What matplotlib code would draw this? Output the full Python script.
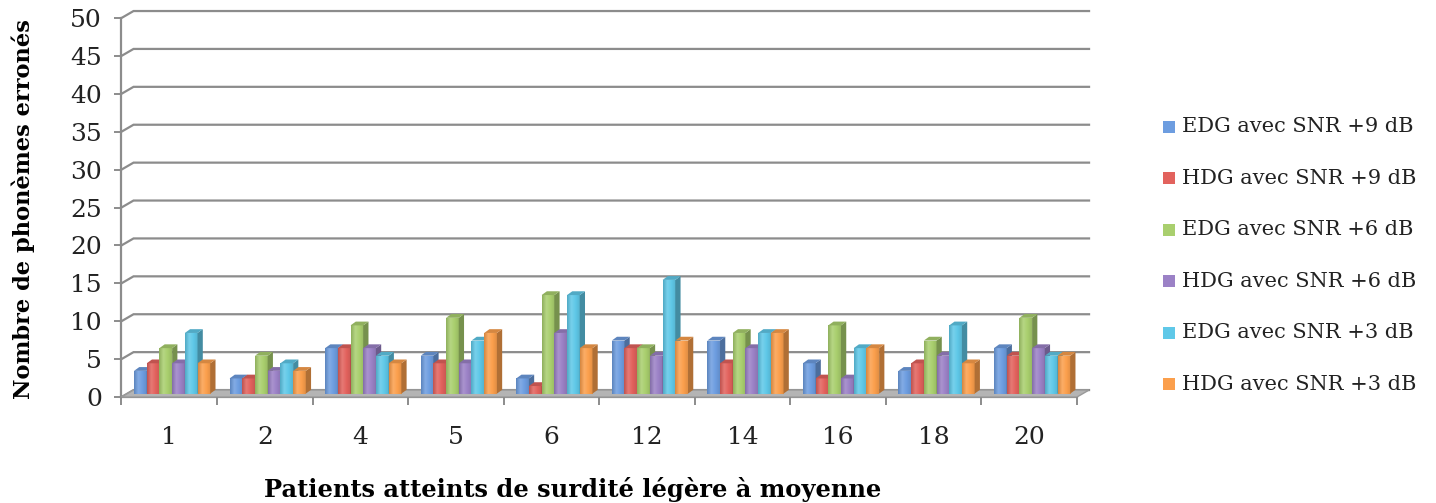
import numpy as np
import matplotlib.pyplot as plt
from matplotlib.patches import Polygon, Rectangle
from matplotlib.colors import LinearSegmentedColormap, to_rgb

plt.rcParams['font.family'] = ['DejaVu Serif']

patients = ["1", "2", "4", "5", "6", "12", "14", "16", "18", "20"]
series_names = ["EDG avec SNR +9 dB", "HDG avec SNR +9 dB", "EDG avec SNR +6 dB",
                "HDG avec SNR +6 dB", "EDG avec SNR +3 dB", "HDG avec SNR +3 dB"]
edg_9 = [3, 2, 6, 5, 2, 7, 7, 4, 3, 6]
hdg_9 = [4, 2, 6, 4, 1, 6, 4, 2, 4, 5]
edg_6 = [6, 5, 9, 10, 13, 6, 8, 9, 7, 10]
hdg_6 = [4, 3, 6, 4, 8, 5, 6, 2, 5, 6]
edg_3 = [8, 4, 5, 7, 13, 15, 8, 6, 9, 5]
hdg_3 = [4, 3, 4, 8, 6, 7, 8, 6, 4, 5]
series = [edg_9, hdg_9, edg_6, hdg_6, edg_3, hdg_3]
colors = ["#6d9de0", "#e2625d", "#a9cf6e", "#9b81c6", "#5fc8e8", "#fb9f4c"]

# pseudo-3d geometry in data units
wall_dx, wall_dy = 0.126, 0.92   # depth of floor / back wall
bar_dx, bar_dy = 0.055, 0.5      # depth of each bar
shift_x, shift_y = 0.03, 0.45    # bars sit a bit behind the front edge
bar_w = 0.133
grid_col = "#8c8c8c"


def shade(c, f):
    r = np.array(to_rgb(c))
    return tuple(r * f) if f < 1 else tuple(r + (1 - r) * (f - 1))


W, H = 1436, 503
fig = plt.figure(figsize=(W / 100, H / 100), dpi=100)
ax = fig.add_axes([0.0846, 0.2107, 0.6654, 0.7535])
ax.set_xlim(-0.5, 9.5)
ax.set_ylim(0, 50)

# floor
x0, x1 = -0.5, 9.5
ax.add_patch(Polygon([(x0, 0), (x1, 0), (x1 + wall_dx, wall_dy), (x0 + wall_dx, wall_dy)],
                     closed=True, facecolor="#b4b4b4", edgecolor="#9a9a9a", lw=1,
                     zorder=1, clip_on=False))

# gridlines on the back wall with the slanted part on the side wall
for v in range(0, 51, 5):
    ax.plot([x0, x0 + wall_dx, x1 + wall_dx], [v, v + wall_dy, v + wall_dy],
            color=grid_col, lw=1.6, zorder=0.5, clip_on=False, solid_joinstyle="miter")

# bars, left to right so each front face covers its left neighbour's side
x = np.arange(len(patients))
for g in range(len(patients)):
    for i, (vals, col) in enumerate(zip(series, colors)):
        left = g + (i - 3) * bar_w + shift_x
        right = left + bar_w
        b0 = shift_y
        top = shift_y + vals[g]
        z = 2 + g * 10 + i
        # gradient front face
        cmap = LinearSegmentedColormap.from_list(
            "f", [shade(col, 0.85), shade(col, 1.15), col, shade(col, 0.9)])
        grad = np.linspace(0, 1, 32).reshape(1, -1)
        im = ax.imshow(grad, cmap=cmap, extent=[left, right, b0, top],
                       aspect="auto", zorder=z, interpolation="bilinear")
        clip = Rectangle((left, b0), bar_w, vals[g], transform=ax.transData)
        im.set_clip_path(clip)
        # side face
        ax.add_patch(Polygon([(right, b0), (right + bar_dx, b0 + bar_dy),
                              (right + bar_dx, top + bar_dy), (right, top)],
                             closed=True, facecolor=shade(col, 0.7), edgecolor="none",
                             zorder=z, clip_on=False))
        # top face
        ax.add_patch(Polygon([(left, top), (right, top), (right + bar_dx, top + bar_dy),
                              (left + bar_dx, top + bar_dy)],
                             closed=True, facecolor=shade(col, 0.85), edgecolor="none",
                             zorder=z, clip_on=False))

ax.set_xlim(-0.5, 9.5)
ax.set_ylim(0, 50)

for s in ["top", "right"]:
    ax.spines[s].set_visible(False)
for s in ["left", "bottom"]:
    ax.spines[s].set_color(grid_col)
    ax.spines[s].set_linewidth(1.6)
    ax.spines[s].set_zorder(0.6)

ax.set_yticks(range(0, 51, 5))
ax.tick_params(axis="y", length=5, width=1.4, color=grid_col, labelsize=18, pad=9)
ax.set_xticks(x)
ax.set_xticklabels(patients)
ax.set_xticks(np.arange(-0.5, 10, 1), minor=True)
ax.tick_params(axis="x", which="major", length=0, labelsize=18, pad=21)
ax.tick_params(axis="x", which="minor", length=6, width=1.4, color=grid_col)
for lab in ax.get_xticklabels() + ax.get_yticklabels():
    lab.set_color("#222222")

fig.text(0.016, 0.585, "Nombre de phonèmes erronés", rotation=90, ha="center",
         va="center", fontsize=16.2, fontweight="bold")
fig.text(0.399, 0.027, "Patients atteints de surdité légère à moyenne", ha="center",
         va="center", fontsize=17.4, fontweight="bold")

# legend: square swatch + label per series
for i, (name, col) in enumerate(zip(series_names, colors)):
    yc = 127 + 51.4 * i
    fig.add_artist(Rectangle((1163 / W, 1 - (yc + 6) / H), 12 / W, 12 / H,
                             transform=fig.transFigure, facecolor=col, edgecolor="none"))
    fig.text(1182 / W, 1 - yc / H, name, ha="left", va="center", fontsize=15,
             color="#222222")

fig.savefig("out.png", dpi=100)
